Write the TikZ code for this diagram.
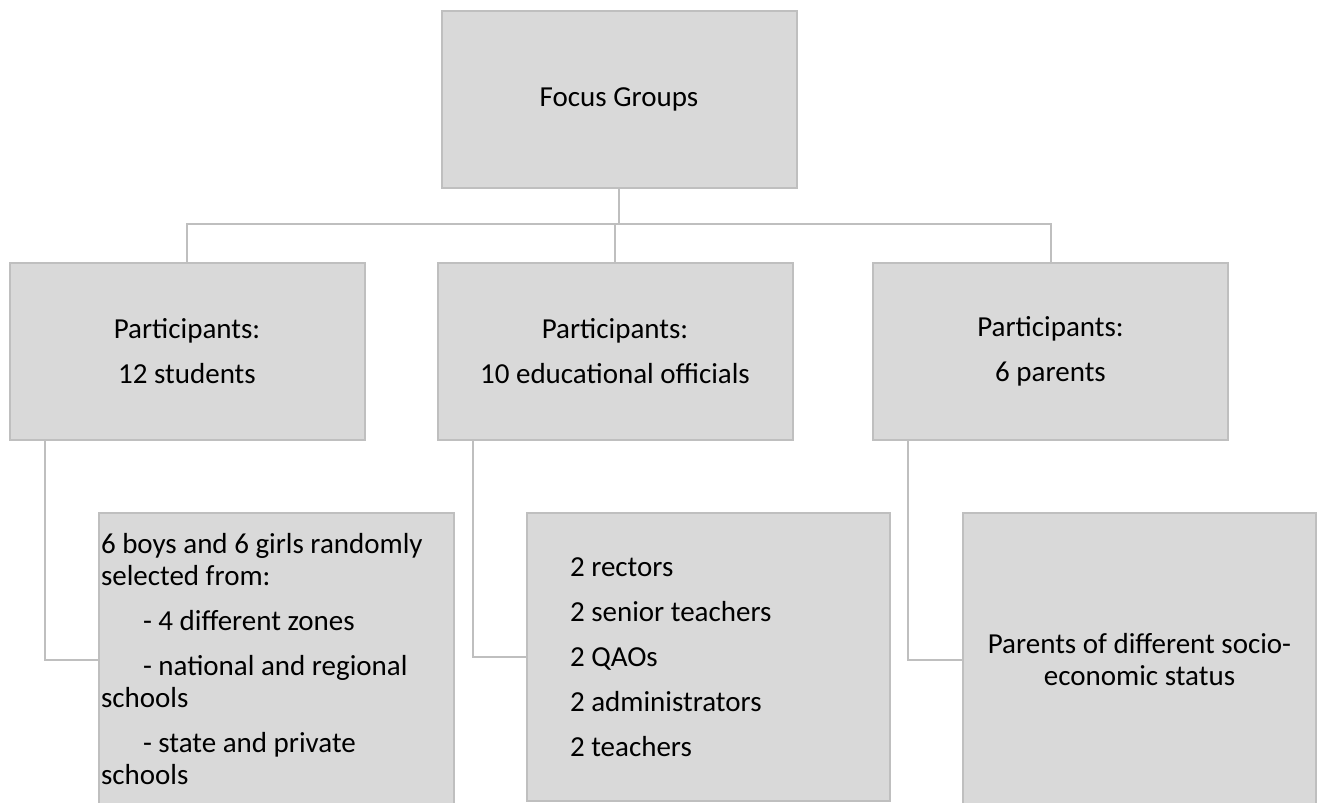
\documentclass[tikz,border=0pt]{standalone}
\usepackage{fontspec}
\setmainfont{Carlito}
\usepackage{xcolor}
\usepackage{tikz}
\definecolor{boxfill}{HTML}{D9D9D9}
\definecolor{boxline}{HTML}{BFBFBF}

\begin{document}
\begin{tikzpicture}
    [x=1pt, y=-1pt,
    box/.style = {draw=boxline, fill=boxfill, line width=2pt,
                minimum width=355pt, minimum height=177pt,
                font=\fontsize{29}{32}\selectfont, align=center},
    conn/.style = {draw=boxline, line width=2pt}]
    \useasboundingbox (0,0) rectangle (1320,803);
    % Focus groups
    \node[box] (fg) at (619,99.5) {Focus Groups};
    % Participants
    \node[box] (stud) at (187,351) {Participants:\\[13pt]12 students};
    \node[box] (off) at (615,351) {Participants:\\[13pt]10 educational officials};
    \node[box] (par) at (1050.5,351) {Participants:\\[13pt]6 parents};
    % Details
    \node[box, anchor=north west, minimum height=293pt, text width=351pt,
          inner xsep=2pt, align=flush left] (selec) at (98,512)
          {6 boys and 6 girls randomly\\ selected from:\\[13pt]
           \hspace*{42pt}- 4 different zones\\[13pt]
           \hspace*{42pt}- national and regional\\ schools\\[13pt]
           \hspace*{42pt}- state and private\\ schools};
    \node[box, anchor=north west, minimum width=363pt, minimum height=288pt,
          text width=277pt, inner xsep=43pt, align=flush left] (roles) at (526,512)
          {2 rectors\\[13pt]2 senior teachers\\[13pt]2 QAOs\\[13pt]
           2 administrators\\[13pt]2 teachers};
    \node[box, anchor=north west, minimum width=353pt, minimum height=293pt]
          (status) at (962,512) {Parents of different socio-\\economic status};
    % Connectors
    \coordinate (bus) at (619,224);
    \draw[conn] (fg.south) -- (bus);
    \draw[conn] (stud.north) |- (bus) -| (par.north);
    \draw[conn] (bus -| off.north) -- (off.north);
    \draw[conn] ([xshift=36pt]stud.south west) |- (selec.west);
    \draw[conn] ([xshift=36pt]off.south west) |- (roles.west);
    \draw[conn] ([xshift=36pt]par.south west) |- (status.west);
\end{tikzpicture}
\end{document}
